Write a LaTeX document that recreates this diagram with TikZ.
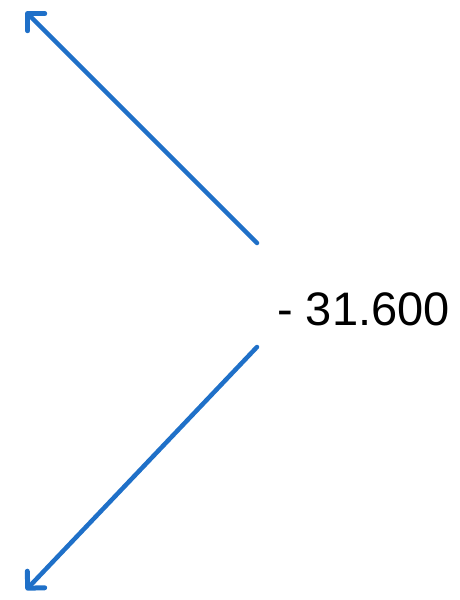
\documentclass[tikz,border=0pt]{standalone}
\usepackage{fontspec}
\setmainfont{Liberation Sans}
\usetikzlibrary{arrows.meta}
\definecolor{arrowblue}{RGB}{31,112,200}
\tikzset{
  conn/.style={draw=arrowblue, line width=4.5pt, line cap=round,
    -{Straight Barb[length=12pt,width=24pt,line width=5pt,round]}},
  lbl/.style={font=\fontsize{47}{56}\selectfont, inner sep=0pt, anchor=base west, text=black}
}
\begin{document}
\begin{tikzpicture}[x=1pt,y=-1pt]
\useasboundingbox (0,0) rectangle (460,600);
\coordinate (s1) at (257,243);
\coordinate (t1) at (26,12);
\coordinate (s2) at (257,347);
\coordinate (t2) at (26,590);
\node[lbl] (val) at (277,325) {- 31.600};
\draw[conn] (s1) -- (t1);
\draw[conn] (s2) -- (t2);
\end{tikzpicture}
\end{document}
